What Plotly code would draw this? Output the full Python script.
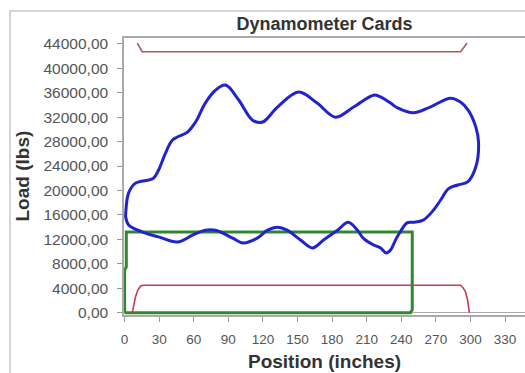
import plotly.graph_objects as go

# Surface card (closed loop): position in inches, load in lbs
surface_pos = [1, 3.5, 9.5, 25, 29.5, 35.5, 41.6, 54.6, 61.6, 70, 79, 87.6, 99, 111,
               119.7, 132.6, 151, 167, 183, 198.6, 216, 222, 230.7, 236.8, 250.6, 265,
               282.7, 291, 298, 304.6, 307, 304.6, 297.5, 289, 281, 274, 268, 259,
               250.6, 245, 239, 235, 230.7, 227, 222, 216, 207, 202, 194, 184.7, 172.6,
               163, 152.6, 141, 132.6, 124, 115, 103, 93.7, 79, 70, 59, 46, 29.5, 15.6,
               3.5, 1, 1]
surface_load = [16300, 19600, 21200, 22000, 23350, 26100, 28250, 29560, 31200, 34300,
                36440, 37250, 34800, 31500, 31200, 33650, 36100, 34300, 32000, 33650,
                35600, 35300, 34300, 33500, 32700, 33650, 35100, 34500, 33150, 30400,
                27900, 23850, 21400, 20900, 20300, 18400, 16800, 15150, 14800, 14700,
                13200, 11900, 10250, 9770, 10600, 11070, 12200, 13500, 14800, 13500,
                11900, 10600, 11900, 13500, 14000, 13500, 12200, 11400, 12200, 13500,
                13500, 12700, 11560, 12400, 13200, 14350, 15650, 16300]

# Downhole card (green box)
downhole_pos = [0, 0, 1.5, 1.5, 249.5, 249.5, 248, 0]
downhole_load = [0, 7000, 7500, 13200, 13200, 500, 0, 0]

# Upper load limit
upper_pos = [11, 15.3, 291.4, 297]
upper_load = [44100, 42700, 42700, 44100]

# Lower load limit
lower_pos = [6.7, 8, 9.5, 11.5, 13.9, 16.5, 291.4, 293.5, 295.7, 297.5, 299]
lower_load = [0, 1200, 2600, 3700, 4370, 4500, 4500, 4100, 3400, 2080, 0]

x_ticks = [0, 30, 60, 90, 120, 150, 180, 210, 240, 270, 300, 330]
y_ticks = [0, 4000, 8000, 12000, 16000, 20000, 24000, 28000, 32000, 36000, 40000, 44000]
y_tick_labels = ["0,00", "4000,00", "8000,00", "12000,00", "16000,00", "20000,00",
                 "24000,00", "28000,00", "32000,00", "36000,00", "40000,00", "44000,00"]

FONT = "Arial, Liberation Sans, sans-serif"

fig = go.Figure()
fig.add_trace(go.Scatter(x=downhole_pos, y=downhole_load, mode="lines",
                         line=dict(color="#2f8a2f", width=3), hoverinfo="skip"))
fig.add_trace(go.Scatter(x=upper_pos, y=upper_load, mode="lines",
                         line=dict(color="#a85a5a", width=1.6), hoverinfo="skip"))
fig.add_trace(go.Scatter(x=lower_pos, y=lower_load, mode="lines",
                         line=dict(color="#cc3850", width=1.6), hoverinfo="skip"))
fig.add_trace(go.Scatter(x=surface_pos, y=surface_load, mode="lines",
                         line=dict(color="#2222d0", width=3, shape="spline", smoothing=1.0),
                         hoverinfo="skip"))

fig.update_layout(
    width=525, height=373,
    margin=dict(l=124, r=0, t=38, b=58),
    paper_bgcolor="white", plot_bgcolor="white",
    showlegend=False,
    font=dict(family=FONT, size=12, color="#555"),
    title=dict(text="<b>Dynamometer Cards</b>", x=0.5, xref="paper", xanchor="center",
               y=1 - 24 / 373, yanchor="middle",
               font=dict(family=FONT, size=18, color="#333")),
    xaxis=dict(range=[-0.5, 347.3], tickvals=x_ticks, ticks="outside", ticklen=5,
               tickcolor="#999", showline=True, linecolor="#aaa", linewidth=1.5,
               mirror=True, showgrid=False, zeroline=False, ticklabelstandoff=6,
               tickfont=dict(size=13.5, color="#555")),
    yaxis=dict(range=[-376, 44950], tickvals=y_ticks, ticktext=y_tick_labels,
               ticks="outside", ticklen=5, tickcolor="#999", showline=True,
               linecolor="#aaa", linewidth=1.5, showgrid=False,
               zeroline=True, zerolinecolor="#aaa", zerolinewidth=1,
               ticklabelstandoff=6, tickfont=dict(size=15.5, color="#555")),
    annotations=[
        dict(text="<b>Load (lbs)</b>", xref="paper", yref="paper", x=(22 - 124) / 401,
             y=0.5, textangle=-90, showarrow=False, xanchor="center", yanchor="middle",
             font=dict(family=FONT, size=19, color="#333")),
        dict(text="<b>Position (inches)</b>", xref="paper", yref="paper", x=0.5,
             y=(315 - 361) / 277, showarrow=False, xanchor="center", yanchor="middle",
             font=dict(family=FONT, size=19, color="#333")),
    ],
    shapes=[
        dict(type="rect", xref="paper", yref="paper", x0=(10 - 124) / 401, x1=1.2,
             y0=-0.4, y1=1 + 27 / 277, line=dict(color="#c8c8c8", width=1.5),
             fillcolor="rgba(0,0,0,0)", layer="below"),
    ],
)

fig.write_html("out.html")
